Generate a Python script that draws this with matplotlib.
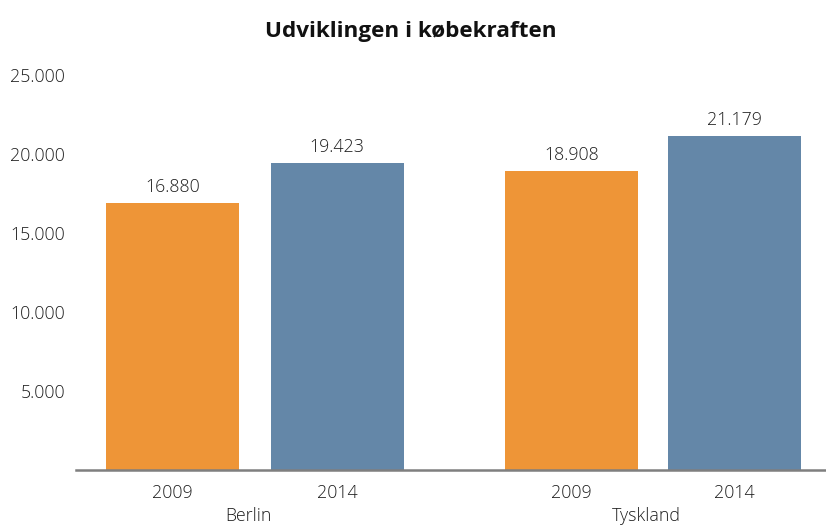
import matplotlib
matplotlib.use("Agg")
import matplotlib.pyplot as plt

title = "Udviklingen i købekraften"
groups = ["Berlin", "Tyskland"]
years = ["2009", "2014", "2009", "2014"]
values = [16880, 19423, 18908, 21179]
yticks = [5000, 10000, 15000, 20000, 25000]
colors = ["#EE9537", "#6487A8", "#EE9537", "#6487A8"]

plt.rcParams['font.family'] = ['Open Sans', 'DejaVu Sans']

def fmt(v):
    return f"{v:,}".replace(",", ".")

fig = plt.figure(figsize=(8.26, 5.26), dpi=100)
ax = fig.add_axes([0.092, 0.1065, 0.908, 0.7505])

FS = 12.8
TC = "#1e1e1e"
pos = [0, 1, 2.421, 3.412]
bars = ax.bar(pos, values, width=0.806, color=colors)
for p, v in zip(pos, values):
    ax.annotate(fmt(v), (p, v), xytext=(0, 5), textcoords="offset points",
                ha="center", va="bottom", fontsize=FS, color=TC, fontweight="light")

ax.set_xlim(-0.585, 3.967)
ax.set_ylim(0, 25000)
ax.set_yticks(yticks)
ax.set_yticklabels([fmt(t) for t in yticks], fontsize=FS, color=TC, fontweight="light")
ax.set_xticks(pos)
ax.set_xticklabels(years, fontsize=FS, color=TC, fontweight="light")
ax.tick_params(length=0)
ax.tick_params(axis="y", pad=8)
ax.tick_params(axis="x", pad=10)

for s in ["top", "right", "left"]:
    ax.spines[s].set_visible(False)
ax.spines["bottom"].set_color("#7f7f7f")
ax.spines["bottom"].set_linewidth(1.8)

group_centers = [(pos[0] + pos[1]) / 2 - 0.04, (pos[2] + pos[3]) / 2 - 0.04]
for g, c in zip(groups, group_centers):
    ax.text(c, -0.117, g, transform=ax.get_xaxis_transform(), ha="center",
            va="center", fontsize=FS, color=TC, fontweight="light")

fig.text(0.497, 0.941, title, ha="center", va="center", fontsize=16.2,
         fontweight="bold", color="#111111")

fig.savefig("out.png", dpi=100)
